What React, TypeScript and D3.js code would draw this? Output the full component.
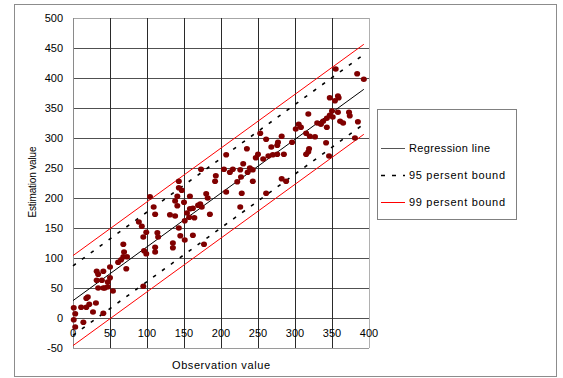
import React, { useEffect, useRef } from 'react';
import * as d3 from 'd3';

// observation / estimation pairs
const observed = [
  1, 3, 1, 3, 14, 11, 18, 18, 20, 22, 27, 31, 41, 32, 34, 41, 32, 39, 34, 41,
  43, 47, 54, 50, 47, 50, 61, 65, 68, 73, 72, 68, 69, 95, 89, 93, 99, 95, 96, 99,
  104, 109, 111, 114, 115, 111, 111, 131, 138, 135, 135, 141, 138, 141, 143, 147, 143, 145, 151, 151,
  157, 162, 162, 169, 164, 150, 158, 154, 158, 143, 177, 207, 204, 212, 216, 173, 193, 192, 180, 182,
  207, 172, 174, 185, 318, 305, 308, 301, 315, 253, 261, 282, 277, 276, 268, 296, 235, 250, 276, 270,
  315, 318, 247, 264, 257, 230, 239, 243, 236, 226, 243, 227, 222, 282, 288, 228, 261, 226, 355, 384,
  393, 347, 358, 359, 354, 350, 358, 347, 351, 373, 374, 343, 338, 361, 365, 385, 330, 335, 343, 320,
  327, 381, 342, 319, 285, 346,
];
const estimated = [
  17, 7, -3, -15, -7, 18, 18, 33, 35, 23, 10, 25, 8, 78, 73, 78, 63, 63, 50, 50,
  50, 52, 45, 67, 60, 85, 93, 97, 102, 102, 82, 123, 110, 53, 160, 153, 143, 135, 112, 107,
  202, 185, 173, 142, 135, 118, 110, 172, 170, 125, 117, 203, 195, 187, 217, 213, 150, 137, 130, 162,
  168, 138, 183, 188, 167, 193, 182, 175, 203, 228, 123, 272, 248, 243, 248, 248, 237, 228, 207, 200,
  210, 190, 185, 173, 340, 323, 318, 315, 308, 308, 298, 303, 293, 288, 285, 293, 282, 273, 273, 272,
  273, 277, 267, 270, 265, 257, 250, 247, 243, 247, 228, 235, 227, 232, 228, 208, 208, 185, 415, 407,
  398, 367, 370, 367, 362, 345, 343, 338, 335, 343, 337, 333, 328, 328, 325, 327, 325, 323, 318, 303,
  302, 300, 292, 282, 273, 270,
];

const xTicks = [0, 50, 100, 150, 200, 250, 300, 350, 400];
const yTicks = [-50, 0, 50, 100, 150, 200, 250, 300, 350, 400, 450, 500];

// regression y = a + b x, bounds as half widths
const regIntercept = 29;
const regSlope = 0.896;
const bound95 = 58;
const bound99 = 75;

const legendItems = [
  { label: 'Regression line', kind: 'reg' },
  { label: '95 persent bound', kind: 'b95' },
  { label: '99 persent bound', kind: 'b99' },
];

const FONT = '"Liberation Sans", Arial, sans-serif';

export default function App() {
  const svgRef = useRef<SVGSVGElement>(null);

  useEffect(() => {
    if (!svgRef.current) return;
    const svg = d3.select(svgRef.current);
    svg.selectAll('*').remove();

    const x = d3.scaleLinear().domain([0, 400]).range([73, 369]);
    const y = d3.scaleLinear().domain([-50, 500]).range([348, 18]);

    // outer frame
    svg.append('rect')
      .attr('x', 14.5).attr('y', 4.5)
      .attr('width', 542).attr('height', 372)
      .attr('fill', 'white')
      .attr('stroke', '#8c8c8c');

    // grid
    const grid = svg.append('g').attr('shape-rendering', 'crispEdges');
    yTicks.forEach(t => {
      grid.append('line')
        .attr('x1', x(0)).attr('x2', x(400))
        .attr('y1', Math.round(y(t)) + 0.5).attr('y2', Math.round(y(t)) + 0.5)
        .attr('stroke', t === 500 ? '#a6a6a6' : t === -50 ? '#9a9a9a' : '#505050');
    });
    xTicks.forEach(t => {
      grid.append('line')
        .attr('x1', Math.round(x(t)) + 0.5).attr('x2', Math.round(x(t)) + 0.5)
        .attr('y1', y(500)).attr('y2', y(-50))
        .attr('stroke', t === 400 ? '#b0b0b0' : t === 0 ? '#8a8a8a' : '#2a2a2a');
    });

    // tick labels
    svg.append('g').selectAll('text')
      .data(yTicks).enter().append('text')
      .attr('x', 63).attr('y', d => y(d)).attr('dy', '0.36em')
      .attr('text-anchor', 'end')
      .style('font-family', FONT).style('font-size', '11px')
      .text(d => String(d));

    svg.append('g').selectAll('text')
      .data(xTicks).enter().append('text')
      .attr('x', d => x(d)).attr('y', y(0) + 19)
      .attr('text-anchor', 'middle')
      .style('font-family', FONT).style('font-size', '11px')
      .text(d => String(d));

    // axis titles
    svg.append('text')
      .attr('transform', `translate(36, 182) rotate(-90)`)
      .attr('text-anchor', 'middle')
      .attr('textLength', 71).attr('lengthAdjust', 'spacing')
      .style('font-family', FONT).style('font-size', '10px')
      .text('Estimation value');

    svg.append('text')
      .attr('x', 221).attr('y', 369)
      .attr('text-anchor', 'middle')
      .attr('textLength', 98).attr('lengthAdjust', 'spacing')
      .style('font-family', FONT).style('font-size', '11px')
      .text('Observation value');

    // regression and bounds
    const xMax = d3.max(observed) || 400;
    const lineGen = (off: number) => d3.line<number>()
      .x(d => x(d))
      .y(d => y(regIntercept + regSlope * d + off))([0, xMax]);

    const lines = svg.append('g');
    [bound99, -bound99].forEach(off => {
      lines.append('path')
        .attr('d', lineGen(off))
        .attr('fill', 'none').attr('stroke', '#ff0000').attr('stroke-width', 1);
    });
    [bound95, -bound95].forEach(off => {
      lines.append('path')
        .attr('d', lineGen(off))
        .attr('fill', 'none').attr('stroke', '#000')
        .attr('stroke-width', 1.6).attr('stroke-dasharray', '3.5 7.5');
    });
    lines.append('path')
      .attr('d', lineGen(0))
      .attr('fill', 'none').attr('stroke', '#000').attr('stroke-width', 1);

    // points
    svg.append('g').selectAll('ellipse')
      .data(observed.map((o, i) => [o, estimated[i]]))
      .enter().append('ellipse')
      .attr('cx', d => x(d[0])).attr('cy', d => y(d[1]))
      .attr('rx', 3).attr('ry', 2.8)
      .attr('fill', '#800000');

    // legend
    const legend = svg.append('g');
    legend.append('rect')
      .attr('x', 377.5).attr('y', 109.5)
      .attr('width', 139).attr('height', 110)
      .attr('fill', 'white').attr('stroke', '#808080');

    const rowY = [148, 175, 202];
    legendItems.forEach((item, i) => {
      const yy = rowY[i] + 0.5;
      const l = legend.append('line')
        .attr('x1', 381).attr('x2', 405)
        .attr('y1', yy).attr('y2', yy);
      if (item.kind === 'reg') l.attr('stroke', '#555').attr('stroke-width', 1);
      if (item.kind === 'b95') l.attr('stroke', '#000').attr('stroke-width', 1.6).attr('stroke-dasharray', '4 7');
      if (item.kind === 'b99') l.attr('stroke', '#ff0000').attr('stroke-width', 1);
      legend.append('text')
        .attr('x', 409).attr('y', rowY[i] + 4)
        .attr('textLength', item.kind === 'reg' ? 81 : 96).attr('lengthAdjust', 'spacing')
        .style('font-family', FONT).style('font-size', '11px')
        .text(item.label);
    });
  }, []);

  return (
    <svg
      ref={svgRef}
      width={563}
      height={378}
      style={{ position: 'absolute', left: 0, top: 0, background: 'white' }}
    />
  );
}
